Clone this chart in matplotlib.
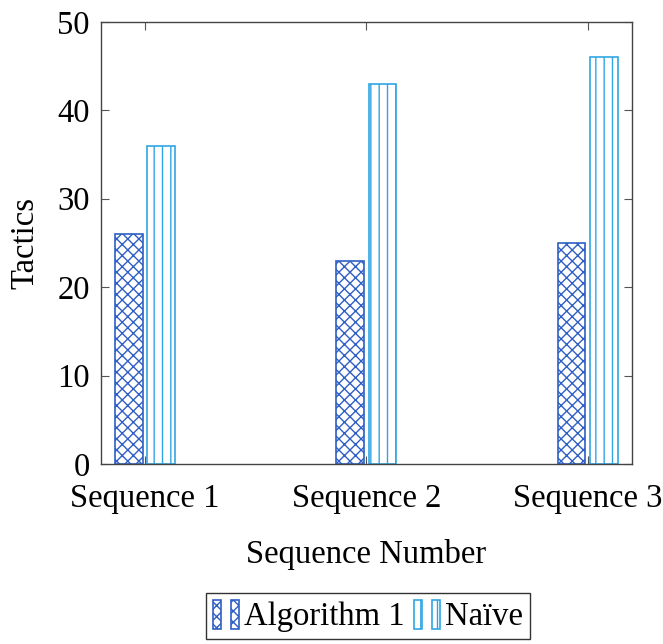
import matplotlib.pyplot as plt
from matplotlib.legend_handler import HandlerTuple
from matplotlib.patches import Rectangle
import numpy as np

plt.rcParams['font.family'] = ['Liberation Serif', 'DejaVu Serif']
plt.rcParams['hatch.linewidth'] = 1.0

sequences = ['Sequence 1', 'Sequence 2', 'Sequence 3']
algorithm1 = [26, 23, 25]
naive = [36, 43, 46]

dark_blue = '#2f5fc4'
light_blue = '#31a5e3'

x = np.arange(1, len(sequences) + 1)
w = 0.125
shift = 0.073
fs = 23.5

fig = plt.figure(figsize=(6.63, 6.44), dpi=100)
ax = fig.add_axes([0.152, 0.2795, 0.801, 0.6865])

ax.bar(x - shift, algorithm1, width=w, facecolor='white', edgecolor=dark_blue,
       hatch='xxx', linewidth=1.2)
ax.bar(x + shift, naive, width=w, facecolor='white', edgecolor=light_blue,
       hatch='||', linewidth=1.2)

ax.set_xlim(0.8, 3.2)
ax.set_ylim(0, 50)
ax.set_xticks(x)
ax.set_xticklabels(sequences)
ax.set_yticks(np.arange(0, 51, 10))
ax.tick_params(direction='in', top=True, right=True, length=6, width=0.8,
               color='#555555', labelsize=fs)
ax.tick_params(axis='x', pad=14)
ax.tick_params(axis='y', pad=8)
for s in ax.spines.values():
    s.set_color('#444444')
    s.set_linewidth(1.0)

ax.set_xlabel('Sequence Number', fontsize=fs, labelpad=18)
ax.set_ylabel('Tactics', fontsize=fs, labelpad=12)

def two_bars(color, hatch):
    p = Rectangle((0, 0), 1, 1, facecolor='white', edgecolor=color, hatch=hatch, linewidth=1.2)
    q = Rectangle((0, 0), 1, 1, facecolor='white', edgecolor=color, hatch=hatch, linewidth=1.2)
    return (p, q)

handles = [two_bars(dark_blue, 'xxx'), two_bars(light_blue, '||')]
leg = fig.legend(handles, ['Algorithm 1', 'Naïve'], loc='center',
                 bbox_to_anchor=(0.555, 0.0435), ncol=2, fontsize=fs,
                 frameon=True, fancybox=False, edgecolor='black',
                 handler_map={tuple: HandlerTuple(ndivide=None, pad=0.3)},
                 handlelength=0.8, handleheight=1.0, handletextpad=0.15,
                 columnspacing=0.3, borderpad=0.2, borderaxespad=0)
leg.get_frame().set_linewidth(1.0)

fig.savefig('out.png', dpi=100)
